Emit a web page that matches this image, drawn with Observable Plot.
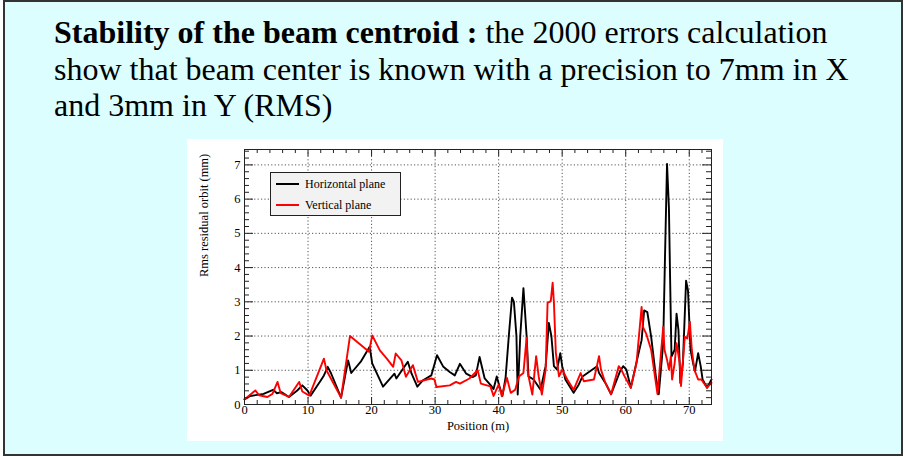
<!DOCTYPE html>
<html>
<head>
<meta charset="utf-8">
<script src="https://cdn.jsdelivr.net/npm/d3@7"></script>
<script src="https://cdn.jsdelivr.net/npm/@observablehq/plot@0.6"></script>
<style>
  html, body { margin: 0; padding: 0; background: #ffffff; }
  #slide { position: absolute; left: 3px; top: 0px; width: 900px; height: 456px; box-sizing: border-box;
           border: 2px solid #333; background: #dcfefe; }
  #title { position: absolute; left: 49px; top: 12px; font-family: "Liberation Serif", "Times New Roman", serif;
           font-size: 32px; line-height: 36.5px; color: #000; white-space: nowrap; }
  #chart { position: absolute; left: 182px; top: 137px; width: 536px; height: 302px; background: #fff; }
  #legend { position: absolute; left: 83px; top: 33px; width: 131px; height: 44px; box-sizing: border-box;
            border: 1px solid #222; background: #f2f2f2; font-family: "Liberation Serif", serif; font-size: 12px; }
  .li { position: absolute; left: 5px; height: 14px; line-height: 14px; }
  .sw { position: absolute; left: 0; top: 6px; width: 23px; height: 2px; }
  .lt { position: absolute; left: 29px; top: 0; white-space: nowrap; }
</style>
</head>
<body>
<div id="slide">
  <div id="title"><b>Stability of the beam centroid :</b> the 2000 errors calculation<br>show that beam center is known with a precision to 7mm in X<br>and 3mm in Y (RMS)</div>
  <div id="chart"></div>
</div>
<script>
// Horizontal plane (black)
const hPos = [0,0.9,2.0,3.0,4.5,5.1,5.8,7.0,8.3,9.1,9.9,10.4,12.0,12.5,13.1,13.6,15.2,16.3,16.8,18.3,19.7,20.1,21.8,23.6,23.9,25.7,26.3,27.2,28.1,29.4,30.3,31.3,32.3,33.1,33.9,34.9,35.9,36.4,37.0,37.8,38.8,39.2,39.7,40.1,40.6,41.1,41.6,42.1,42.4,42.8,43.0,43.4,43.9,44.4,44.7,45.5,46.6,47.4,47.9,48.3,48.7,49.2,49.7,50.0,50.5,51.8,52.6,53.2,55.5,55.8,56.8,57.7,59.1,59.6,60.1,60.8,61.9,62.5,62.9,63.4,64.0,64.8,65.2,65.9,66.2,66.5,66.8,67.0,67.2,67.7,68.0,68.3,68.6,69.0,69.5,69.8,70.2,70.6,70.9,71.4,71.8,72.1,72.8,73.5];
const hRms = [0.15,0.25,0.28,0.31,0.43,0.33,0.36,0.22,0.41,0.56,0.41,0.26,0.70,0.85,1.10,0.92,0.20,1.29,0.92,1.25,1.69,1.20,0.52,0.90,0.76,1.25,0.90,0.52,0.71,0.85,1.44,1.10,0.95,0.85,1.19,0.90,0.80,0.85,1.39,0.76,0.55,0.45,0.82,0.55,0.25,0.80,2.00,3.12,3.00,2.00,0.29,2.00,3.40,2.00,0.82,0.73,0.43,1.12,2.38,2.00,1.12,1.02,1.50,1.12,0.73,0.34,0.58,0.82,1.12,0.92,0.63,0.30,0.97,1.12,1.02,0.49,1.40,1.88,2.75,2.70,1.98,0.73,0.30,1.79,4.48,7.03,5.73,3.52,1.40,1.60,2.65,2.17,0.63,1.21,3.62,3.33,1.60,1.21,0.97,1.50,1.12,0.73,0.49,0.73];
// Vertical plane (red)
const vPos = [0,1.7,2.3,3.6,4.4,5.2,5.7,7.0,8.6,9.1,10.2,12.5,12.9,15.2,16.6,19.6,20.1,21.3,22.4,23.4,23.8,24.7,25.4,26.5,27.3,29.4,29.9,30.2,32.3,33.3,33.9,35.4,36.7,37.2,38.7,39.2,40.0,40.5,41.3,41.9,42.6,43.2,43.9,44.4,44.6,45.3,45.9,46.3,46.8,47.4,47.7,48.2,48.5,48.7,49.0,49.5,50.0,50.8,51.8,52.9,53.4,55.0,55.8,56.1,56.8,57.7,58.9,59.3,59.8,60.8,61.7,62.5,62.7,63.2,64.0,65.0,65.9,66.1,66.5,66.8,67.1,67.3,67.7,68.0,68.5,68.7,69.3,69.7,70.1,70.4,70.8,71.4,71.9,72.8,73.5];
const vRms = [0.15,0.41,0.27,0.22,0.31,0.66,0.33,0.22,0.66,0.38,0.26,1.34,1.00,0.20,2.00,1.54,2.02,1.58,1.34,1.10,1.49,1.29,0.81,1.15,0.66,0.76,0.73,0.51,0.56,0.66,0.61,0.76,1.00,0.61,0.53,0.25,0.58,0.24,0.78,0.34,0.43,0.82,0.92,1.95,0.92,0.29,1.41,0.82,0.29,1.02,2.97,3.02,3.56,2.97,1.51,0.82,1.02,0.73,0.43,0.92,0.68,0.73,1.41,1.02,0.63,0.30,1.12,1.02,0.83,0.49,1.21,2.85,2.27,2.08,1.60,0.30,2.27,1.60,1.31,1.02,1.40,0.73,1.21,1.79,1.21,0.54,1.98,1.93,2.41,1.60,1.02,0.73,0.73,0.49,0.63];

const xMajor = [0,10,20,30,40,50,60,70];
const xMinor = [2,4,6,8,12,14,16,18,22,24,26,28,32,34,36,38,42,44,46,48,52,54,56,58,62,64,66,68,72];
const yMajor = [0,1,2,3,4,5,6,7];
const yMinor = [0.2,0.4,0.6,0.8,1.2,1.4,1.6,1.8,2.2,2.4,2.6,2.8,3.2,3.4,3.6,3.8,4.2,4.4,4.6,4.8,5.2,5.4,5.6,5.8,6.2,6.4,6.6,6.8,7.2,7.4];
const seriesNames = ["Horizontal plane", "Vertical plane"];
const seriesColors = ["#000000", "#ff0000"];
const xLabel = "Position (m)";
const yLabel = "Rms residual orbit (mm)";

const W = 536, H = 302, mL = 57, mR = 12, mT = 10, mB = 37;
const pw = W - mL - mR, ph = H - mT - mB;
const font = "'Liberation Serif', 'Times New Roman', serif";

const hData = hPos.map((x, i) => ({x, y: hRms[i]}));
const vData = vPos.map((x, i) => ({x, y: vRms[i]}));

const plot = Plot.plot({
  width: W, height: H, marginLeft: mL, marginRight: mR, marginTop: mT, marginBottom: mB,
  style: {fontFamily: font, fontSize: "12.5px", background: "#fff", color: "#000"},
  x: {domain: [0, 73.5], ticks: xMajor, tickSize: 0, tickPadding: 1, label: null},
  y: {domain: [0, 7.45], ticks: yMajor, tickSize: 0, tickPadding: 4, label: null},
  marks: [
    Plot.ruleX(xMajor.filter(d => d > 0), {stroke: "#555", strokeDasharray: "1.2,2.2", strokeWidth: 1}),
    Plot.ruleY(yMajor.filter(d => d > 0), {stroke: "#555", strokeDasharray: "1.2,2.2", strokeWidth: 1}),
    Plot.line(hData, {x: "x", y: "y", stroke: seriesColors[0], strokeWidth: 1.9}),
    Plot.line(vData, {x: "x", y: "y", stroke: seriesColors[1], strokeWidth: 1.9}),
    // inward ticks, bottom and top
    Plot.tickX(xMajor, {x: d => d, insetTop: ph - 7, stroke: "#222"}),
    Plot.tickX(xMinor, {x: d => d, insetTop: ph - 4, stroke: "#222"}),
    Plot.tickX(xMajor, {x: d => d, insetBottom: ph - 7, stroke: "#222"}),
    Plot.tickX(xMinor, {x: d => d, insetBottom: ph - 4, stroke: "#222"}),
    // inward ticks, left and right
    Plot.tickY(yMajor, {y: d => d, insetRight: pw - 9, stroke: "#222"}),
    Plot.tickY(yMinor, {y: d => d, insetRight: pw - 5, stroke: "#222"}),
    Plot.tickY(yMajor, {y: d => d, insetLeft: pw - 9, stroke: "#222"}),
    Plot.tickY(yMinor, {y: d => d, insetLeft: pw - 5, stroke: "#222"}),
    Plot.frame({stroke: "#222", strokeWidth: 1}),
    Plot.text([xLabel], {frameAnchor: "bottom", dy: 25, fontSize: 12.5, fontFamily: font, text: d => d}),
    Plot.text([yLabel], {frameAnchor: "left", dx: -41, rotate: -90, fontSize: 12.5, fontFamily: font, text: d => d})
  ]
});

const chart = document.getElementById("chart");
chart.appendChild(plot);
const legend = document.createElement("div");
legend.id = "legend";
seriesNames.forEach((name, i) => {
  const row = document.createElement("div");
  row.className = "li";
  row.style.top = (4 + i * 21) + "px";
  const sw = document.createElement("div");
  sw.className = "sw";
  sw.style.background = seriesColors[i];
  const lt = document.createElement("div");
  lt.className = "lt";
  lt.textContent = name;
  row.appendChild(sw); row.appendChild(lt);
  legend.appendChild(row);
});
chart.appendChild(legend);
</script>
</body>
</html>
